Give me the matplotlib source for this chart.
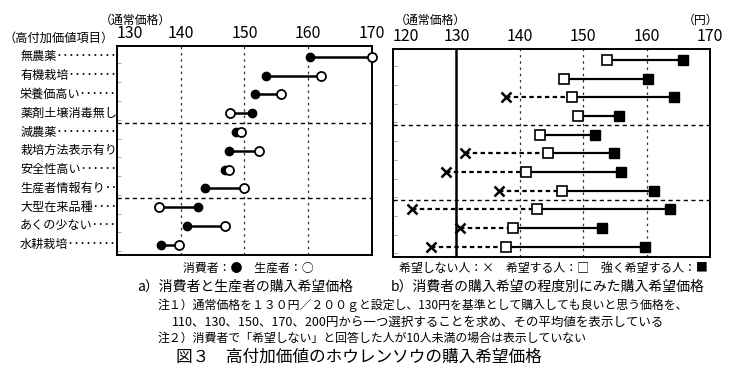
import numpy as np
import matplotlib
matplotlib.use("Agg")
import matplotlib.pyplot as plt

plt.rcParams['font.family'] = ['Noto Sans CJK JP', 'DejaVu Sans']

# 高付加価値項目
items = ['無農薬', '有機栽培', '栄養価高い', '薬剤土壌消毒無し', '減農薬', '栽培方法表示有り',
         '安全性高い', '生産者情報有り', '大型在来品種', 'あくの少ない', '水耕栽培']

# a) 消費者と生産者の購入希望価格
consumer = [160.2, 153.3, 151.6, 151.1, 148.6, 147.5, 146.9, 143.8, 142.7, 141.0, 136.9]
producer = [170.0, 162.0, 155.8, 147.7, 149.4, 152.3, 147.5, 150.0, 136.6, 146.9, 139.8]

# b) 希望の程度別
no_wish = [np.nan, np.nan, 137.8, np.nan, np.nan, 131.3, 128.4, 136.7, 123.0, 130.5, 126.0]
wish = [153.8, 147.0, 148.3, 149.2, 143.2, 144.4, 141.0, 146.7, 142.7, 139.0, 137.8]
strong = [165.7, 160.3, 164.3, 155.6, 151.9, 154.9, 155.9, 161.1, 163.7, 153.0, 159.7]

ticks_a = [130, 140, 150, 160, 170]
ticks_b = [120, 130, 140, 150, 160, 170]
group_breaks = [3.5, 7.5]

rows = np.arange(len(items))

fig = plt.figure(figsize=(7.34, 3.77), dpi=100)
ax1 = fig.add_axes([0.1594, 0.3236, 0.3474, 0.5544])
ax2 = fig.add_axes([0.5354, 0.3183, 0.4319, 0.5517])


def setup(ax, ticks, lo, hi):
    ax.set_xlim(lo, hi)
    ax.set_ylim(10.55, -0.58)
    ax.xaxis.tick_top()
    ax.set_xticks(ticks)
    ax.set_xticklabels([str(t) for t in ticks], fontsize=11.5)
    ax.tick_params(axis='x', length=0, pad=3)
    ax.get_xticklabels()[0].set_horizontalalignment('left')
    ax.set_yticks(rows + 0.35)
    ax.set_yticklabels([])
    ax.tick_params(axis='y', direction='in', length=3, color='#999999', width=0.6)
    for s in ax.spines.values():
        s.set_linewidth(1.4)
    for t in ticks:
        if lo < t < hi and t != 130:
            ax.axvline(t, color='#333333', lw=0.9, ls=(0, (2, 3)), zorder=0)
    for b in group_breaks:
        ax.axhline(b, color='black', lw=1.0, ls=(0, (3, 2.5)), zorder=0)


setup(ax1, ticks_a, 130, 170)
setup(ax2, ticks_b, 120, 170)
ax2.axvline(130, color='black', lw=1.8, zorder=1)

# a)
for i in rows:
    ax1.plot([consumer[i], producer[i]], [i, i], color='black', lw=1.8, zorder=2)
ax1.plot(consumer, rows, 'o', ms=6, mfc='black', mec='black', zorder=3, clip_on=False)
ax1.plot(producer, rows, 'o', ms=6.5, mfc='white', mec='black', mew=1.3, zorder=4, clip_on=False)

lbl_tr = ax1.get_yaxis_transform()
for i, name in enumerate(items):
    ax1.text(-0.38, i, name + '･' * (2 * (8 - len(name))), transform=lbl_tr,
             ha='left', va='center', fontsize=8.7)

# b)
for i in rows:
    if not np.isnan(no_wish[i]):
        ax2.plot([no_wish[i], wish[i]], [i, i], color='black', lw=1.6,
                 ls=(0, (2, 1.5)), zorder=2)
    ax2.plot([wish[i], strong[i]], [i, i], color='black', lw=1.6, zorder=2)
ax2.plot(no_wish, rows, 'x', ms=6.5, mec='black', mew=1.8, zorder=3)
ax2.plot(wish, rows, 's', ms=6.5, mfc='white', mec='black', mew=1.2, zorder=4)
ax2.plot(strong, rows, 's', ms=6.5, mfc='black', mec='black', zorder=4)

# headers
fig.text(100 / 734, 1 - 20 / 377, '（通常価格）', fontsize=8.6, va='center', ha='left')
fig.text(3 / 734, 1 - 38 / 377, '（高付加価値項目）', fontsize=8.8, va='center', ha='left')
fig.text(395 / 734, 1 - 20 / 377, '（通常価格）', fontsize=8.6, va='center', ha='left')
fig.text(718 / 734, 1 - 20 / 377, '（円）', fontsize=8.6, va='center', ha='right')

# legends and captions
fig.text(248 / 734, 1 - 268 / 377, '消費者：●　生産者：○', fontsize=8.6, va='center', ha='center')
fig.text(553 / 734, 1 - 268 / 377, '希望しない人：×　希望する人：□　強く希望する人：■',
         fontsize=8.6, va='center', ha='center')
fig.text(245 / 734, 1 - 287 / 377, 'a）消費者と生産者の購入希望価格', fontsize=10, va='center', ha='center')
fig.text(548 / 734, 1 - 287 / 377, 'b）消費者の購入希望の程度別にみた購入希望価格', fontsize=10,
         va='center', ha='center')
fig.text(158 / 734, 1 - 305 / 377,
         '注１）通常価格を１３０円／２００ｇと設定し、130円を基準として購入しても良いと思う価格を、',
         fontsize=8.6, va='center', ha='left')
fig.text(172 / 734, 1 - 322 / 377,
         '110、130、150、170、200円から一つ選択することを求め、その平均値を表示している',
         fontsize=9.0, va='center', ha='left')
fig.text(158 / 734, 1 - 338 / 377,
         '注２）消費者で「希望しない」と回答した人が10人未満の場合は表示していない',
         fontsize=8.6, va='center', ha='left')
fig.text(176 / 734, 1 - 357 / 377, '図３　高付加価値のホウレンソウの購入希望価格',
         fontsize=12, va='center', ha='left')

fig.savefig('out.png', dpi=100)
